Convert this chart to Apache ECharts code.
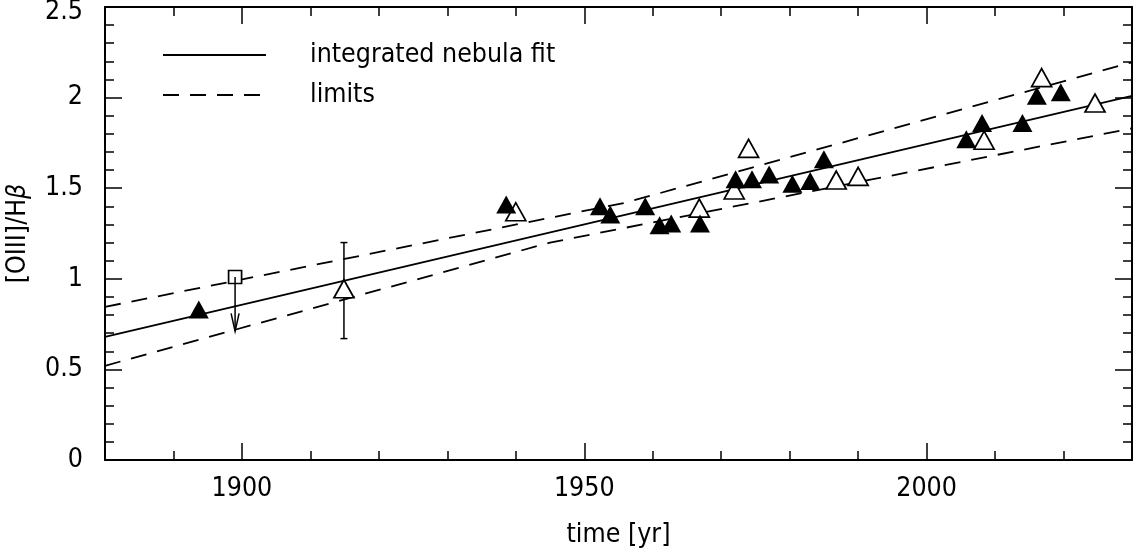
<!DOCTYPE html>
<html>
<head>
<meta charset="utf-8">
<script src="https://cdn.jsdelivr.net/npm/echarts@6/dist/echarts.min.js"></script>
<style>
  html, body { margin: 0; padding: 0; background: #fff; }
  #chart { width: 1135px; height: 553px; }
</style>
</head>
<body>
<div id="chart"></div>
<script>
// fitted line and its limits (year, ratio)
var fitYears = [1880, 2030]
var fitValues = [0.68, 2.01]
var upperYears = [1880, 1956, 2030]
var upperValues = [0.845, 1.42, 2.195]
var lowerYears = [1880, 1945, 2030]
var lowerValues = [0.52, 1.20, 1.83]

// filled triangles
var filledYears = [1893.7, 1938.6, 1952.3, 1953.8, 1958.9, 1961.0, 1962.7, 1966.9, 1972.1, 1974.5,
  1977.0, 1980.4, 1983.0, 1985.0, 2005.8, 2008.1, 2014.0, 2016.1, 2019.6]
var filledValues = [0.83, 1.41, 1.40, 1.355, 1.40, 1.295, 1.305, 1.305, 1.55, 1.55,
  1.575, 1.525, 1.54, 1.66, 1.77, 1.86, 1.86, 2.01, 2.03]

// open triangles
var openYears = [1914.9, 1940.0, 1966.8, 1971.9, 1974.0, 1986.8, 1990.0, 2008.4, 2016.8, 2024.6]
var openValues = [0.945, 1.37, 1.39, 1.49, 1.72, 1.545, 1.565, 1.765, 2.11, 1.97]

// error bar on the 1915 point
var errYears = [1914.9]
var errLow = [0.67]
var errHigh = [1.20]

// upper limit (open square with arrow)
var limitYears = [1899.0]
var limitValues = [1.01]
var limitArrowTo = [0.71]

// axis ticks
var xMajor = [1900, 1950, 2000]

function pairs(xs, ys) {
  var out = []
  for (var i = 0; i < xs.length; i++) out.push([xs[i], ys[i]])
  return out
}

var FONT = "'DejaVu Sans Condensed', 'Liberation Sans Narrow', 'DejaVu Sans', sans-serif"
var FS = 26.5
var black = '#000'

var errData = []
for (var i = 0; i < errYears.length; i++) errData.push([errYears[i], errLow[i], errHigh[i]])
var arrowData = []
for (var i = 0; i < limitYears.length; i++) arrowData.push([limitYears[i], limitValues[i], limitArrowTo[i]])

function xAxisDef(pos, major, showLabel) {
  var ax = {
    type: 'value', position: pos, min: 1880, max: 2030, interval: 10,
    axisLine: { show: !major, onZero: false, lineStyle: { color: black, width: 2 } },
    axisTick: { show: true, inside: true, length: major ? 17 : 9, lineStyle: { color: black, width: 1.5 } },
    axisLabel: { show: false },
    splitLine: { show: false }
  }
  if (major) ax.axisTick.customValues = xMajor
  if (showLabel) {
    ax.axisLabel = {
      show: true, customValues: xMajor, margin: 16,
      color: black, fontFamily: FONT, fontSize: FS,
      formatter: function (v) { return String(v) }
    }
    ax.name = 'time [yr]'
    ax.nameLocation = 'middle'
    ax.nameGap = 62
    ax.nameTextStyle = { color: black, fontFamily: FONT, fontSize: FS }
  }
  return ax
}

function yAxisDef(pos, showLabel) {
  var ax = {
    type: 'value', position: pos, min: 0, max: 2.5, interval: 0.5,
    axisLine: { show: true, onZero: false, lineStyle: { color: black, width: 2 } },
    axisTick: { show: true, inside: true, length: 17, lineStyle: { color: black, width: 1.5 } },
    minorTick: { show: true, splitNumber: 5, length: 9, lineStyle: { color: black, width: 1.5 } },
    axisLabel: { show: false },
    splitLine: { show: false }
  }
  if (showLabel) {
    ax.axisLabel = {
      show: true, margin: 22, color: black, fontFamily: FONT, fontSize: FS,
      formatter: function (v) { return v >= 2.5 ? '{top|' + v + '}' : String(v) },
      rich: { top: { fontFamily: FONT, fontSize: FS, color: black, padding: [10, 0, 0, 0] } }
    }
    ax.name = '[OIII]/H{b|β}'
    ax.nameLocation = 'middle'
    ax.nameGap = 73
    ax.nameTextStyle = {
      color: black, fontFamily: FONT, fontSize: FS,
      rich: { b: { fontFamily: FONT, fontSize: FS, fontStyle: 'italic', color: black } }
    }
  }
  return ax
}

var myChart = echarts.init(document.getElementById('chart'))
var option = {
  animation: false,
  backgroundColor: '#fff',
  grid: { left: 105, right: 3, top: 7, bottom: 93, outerBoundsMode: 'none', containLabel: false },
  legend: {
    left: 157, top: 35, orient: 'vertical',
    itemWidth: 103, itemHeight: 14, itemGap: 10,
    data: ['integrated nebula fit', 'limits'],
    itemStyle: { opacity: 0 },
    textStyle: { color: black, fontFamily: FONT, fontSize: FS, lineHeight: 30, padding: [0, 0, 0, 39] }
  },
  xAxis: [
    xAxisDef('bottom', false, true),
    xAxisDef('bottom', true, false),
    xAxisDef('top', false, false),
    xAxisDef('top', true, false)
  ],
  yAxis: [
    yAxisDef('left', true),
    yAxisDef('right', false)
  ],
  series: [
    {
      name: 'integrated nebula fit', type: 'line', data: pairs(fitYears, fitValues),
      symbol: 'none', lineStyle: { color: black, width: 1.8 }, itemStyle: { color: black }, z: 2
    },
    {
      name: 'limits', type: 'line', data: pairs(upperYears, upperValues),
      symbol: 'none', lineStyle: { color: black, width: 1.8, type: [16, 11] }, itemStyle: { color: black }, z: 2
    },
    {
      name: 'limits', type: 'line', data: pairs(lowerYears, lowerValues),
      symbol: 'none', lineStyle: { color: black, width: 1.8, type: [16, 11] }, itemStyle: { color: black }, z: 2
    },
    {
      type: 'custom', data: errData, z: 3,
      renderItem: function (params, api) {
        var lo = api.coord([api.value(0), api.value(1)])
        var hi = api.coord([api.value(0), api.value(2)])
        var cap = 3.5
        var st = { stroke: black, lineWidth: 1.5 }
        return {
          type: 'group', children: [
            { type: 'line', shape: { x1: lo[0], y1: lo[1], x2: hi[0], y2: hi[1] }, style: st },
            { type: 'line', shape: { x1: lo[0] - cap, y1: lo[1], x2: lo[0] + cap, y2: lo[1] }, style: st },
            { type: 'line', shape: { x1: hi[0] - cap, y1: hi[1], x2: hi[0] + cap, y2: hi[1] }, style: st }
          ]
        }
      }
    },
    {
      type: 'scatter', data: pairs(openYears, openValues), symbol: 'triangle', symbolSize: [20, 18],
      itemStyle: { color: '#fff', borderColor: black, borderWidth: 1.7, opacity: 1 }, z: 4
    },
    {
      type: 'scatter', data: pairs(filledYears, filledValues), symbol: 'triangle', symbolSize: [20, 18],
      itemStyle: { color: black, opacity: 1 }, z: 5
    },
    {
      type: 'scatter', data: pairs(limitYears, limitValues), symbol: 'rect', symbolSize: 13,
      itemStyle: { color: '#fff', borderColor: black, borderWidth: 1.7, opacity: 1 }, z: 4
    },
    {
      type: 'custom', data: arrowData, z: 6,
      renderItem: function (params, api) {
        var from = api.coord([api.value(0), api.value(1)])
        var to = api.coord([api.value(0), api.value(2)])
        var st = { stroke: black, lineWidth: 1.5, fill: null }
        return {
          type: 'group', children: [
            { type: 'line', shape: { x1: from[0], y1: from[1], x2: to[0], y2: to[1] }, style: st },
            { type: 'polyline', shape: { points: [[to[0] - 4, to[1] - 18], [to[0], to[1]], [to[0] + 4, to[1] - 18]] }, style: st }
          ]
        }
      }
    }
  ]
}
myChart.setOption(option)
</script>
</body>
</html>
